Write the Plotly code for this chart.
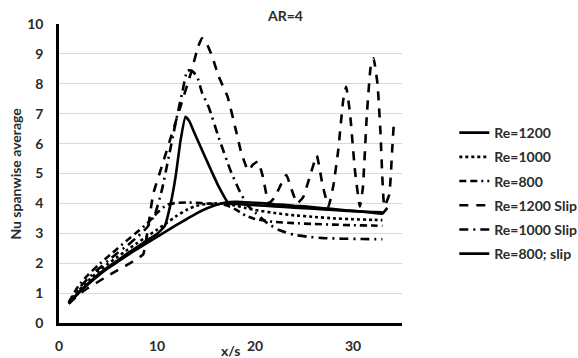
import plotly.graph_objects as go

# ---- data ----
names = ["Re=1200", "Re=1000", "Re=800", "Re=1200 Slip", "Re=1000 Slip", "Re=800; slip"]

x_re1200 = [1,2,3,4,5,6,7,8,9,10,11,12,13,14,15,16,17,18,19,20,21,22,23,24,25,26,27,28,29,30,31,32,33,33.5]
y_re1200 = [0.65,1.0,1.3,1.58,1.83,2.05,2.27,2.48,2.68,2.88,3.08,3.28,3.47,3.66,3.82,3.95,4.03,4.05,4.04,4.02,4.0,3.97,3.95,3.92,3.9,3.87,3.84,3.81,3.78,3.75,3.72,3.69,3.66,3.85]

x_re1000 = [1,2,3,4,5,6,7,8,9,10,11,12,13,14,15,16,17,18,19,20,22,24,26,28,30,32,33]
y_re1000 = [0.65,1.08,1.42,1.72,1.98,2.22,2.45,2.68,2.9,3.12,3.35,3.58,3.78,3.92,3.98,4.0,3.98,3.93,3.85,3.78,3.68,3.6,3.55,3.5,3.47,3.45,3.44]

x_re800 = [1,2,3,4,5,6,7,8,9,10,11,12,13,14,15,16,17,18,19,20,21,22,24,26,28,30,32,33]
y_re800 = [0.7,1.25,1.62,1.93,2.22,2.5,2.78,3.05,3.33,3.68,3.95,4.02,4.03,4.02,4.0,3.98,3.95,3.8,3.6,3.48,3.42,3.38,3.34,3.31,3.29,3.27,3.26,3.25]

x_re1200s = [1,2,3,4,5,6,7,8,8.6,9.1,9.6,10.5,11.5,12.5,13.5,14.2,14.6,15.0,15.65,16.3,17.2,18.05,18.6,19.3,19.8,20.3,20.8,21.4,22.0,22.6,23.2,23.7,24.3,24.9,25.6,26.3,26.9,27.5,28.0,28.5,29.0,29.3,29.7,30.2,30.7,31.0,31.4,31.8,32.1,32.5,32.8,33.2,33.7,34.0,34.15]
y_re1200s = [0.65,0.95,1.18,1.38,1.58,1.77,1.95,2.15,2.3,3.2,4.3,5.25,6.3,7.35,8.4,9.25,9.52,9.4,8.9,8.24,7.57,6.45,5.7,5.1,5.3,5.4,4.9,4.0,4.2,4.6,4.95,4.5,4.0,4.2,4.9,5.6,4.6,3.9,4.6,5.8,7.45,7.9,7.0,5.1,3.9,4.5,6.9,8.55,8.85,8.0,6.4,3.9,4.3,5.8,6.6]

x_re1000s = [1,2,3,4,5,6,7,8,9,9.8,10.5,11.2,12.0,12.6,13.1,13.6,14.1,14.6,15.3,16.3,17.5,18.3,19.2,20.0,21.3,22.5,24.0,25.5,27,29,31,33]
y_re1000s = [0.66,1.15,1.5,1.8,2.08,2.35,2.6,2.88,3.2,3.65,4.45,5.56,6.85,7.75,8.45,8.42,8.24,7.7,7.2,6.2,5.1,4.5,3.95,3.7,3.33,3.1,2.95,2.88,2.84,2.82,2.81,2.8]

x_re800s = [1,2,3,4,5,6,7,8,9,10,10.8,11.4,11.9,12.4,12.9,13.3,13.7,14.3,14.9,15.6,16.3,17.3,18,19,20,22,24,26,28,30,32,33]
y_re800s = [0.65,1.02,1.33,1.62,1.87,2.1,2.33,2.55,2.77,2.98,3.25,4.0,4.9,6.1,6.9,6.75,6.45,6.0,5.56,5.05,4.56,4.0,3.98,3.96,3.94,3.9,3.86,3.82,3.78,3.74,3.71,3.7]

x_ticks = [0, 10, 20, 30]
y_ticks = list(range(0, 11))

series = [
    (x_re1200, y_re1200, "solid"),
    (x_re1000, y_re1000, "dot"),
    (x_re800, y_re800, "7px,4px,7px,4px,2px,4px"),
    (x_re1200s, y_re1200s, "9px,8px"),
    (x_re1000s, y_re1000s, "9px,5px,2px,5px"),
    (x_re800s, y_re800s, "solid"),
]

FONT = "Lato"
TXT = "#2b2b2b"

fig = go.Figure()
for i, (name, (xs, ys, dash)) in enumerate(zip(names, series)):
    fig.add_trace(go.Scatter(
        x=xs, y=ys, mode="lines", name=name, legendgroup=f"g{i}",
        line=dict(color="black", width=2.6, dash=dash, shape="spline", smoothing=0.4),
    ))

fig.update_layout(
    width=578, height=358,
    margin=dict(l=59, r=176, t=24, b=35, autoexpand=False),
    plot_bgcolor="white", paper_bgcolor="white",
    font=dict(family=FONT, size=14, color=TXT),
    showlegend=True,
    legend=dict(xref="container", yref="container", x=0.786, y=0.673,
                xanchor="left", yanchor="top",
                font=dict(family=FONT, size=14, color=TXT, weight="bold"),
                tracegroupgap=3, bgcolor="rgba(0,0,0,0)", itemwidth=30),
    xaxis=dict(range=[0, 35], tickvals=x_ticks, showgrid=False, zeroline=False,
               showline=True, linecolor="black", linewidth=2.5,
               ticks="outside", ticklen=8, tickcolor="rgba(0,0,0,0)",
               tickfont=dict(family=FONT, size=14, color=TXT, weight="bold")),
    yaxis=dict(range=[0, 10], tickvals=y_ticks, showgrid=True, gridcolor="#d9d9d9", gridwidth=1.2,
               zeroline=False, showline=True, linecolor="black", linewidth=2.5,
               ticks="outside", ticklen=10, tickcolor="rgba(0,0,0,0)",
               tickfont=dict(family=FONT, size=14, color=TXT, weight="bold")),
    annotations=[
        dict(text="AR=4", xref="paper", yref="paper", x=0.659, y=1.027,
             xanchor="center", yanchor="middle", showarrow=False,
             font=dict(family=FONT, size=14, color=TXT, weight="bold")),
        dict(text="x/s", xref="paper", yref="paper", x=0.5, y=-0.092,
             xanchor="center", yanchor="middle", showarrow=False,
             font=dict(family=FONT, size=14, color=TXT, weight="bold")),
        dict(text="Nu spanwise average", xref="paper", yref="paper", x=-0.128, y=0.5,
             xanchor="center", yanchor="middle", showarrow=False, textangle=-90,
             font=dict(family=FONT, size=14, color=TXT, weight="bold")),
    ],
)

fig.write_html("out.html")
